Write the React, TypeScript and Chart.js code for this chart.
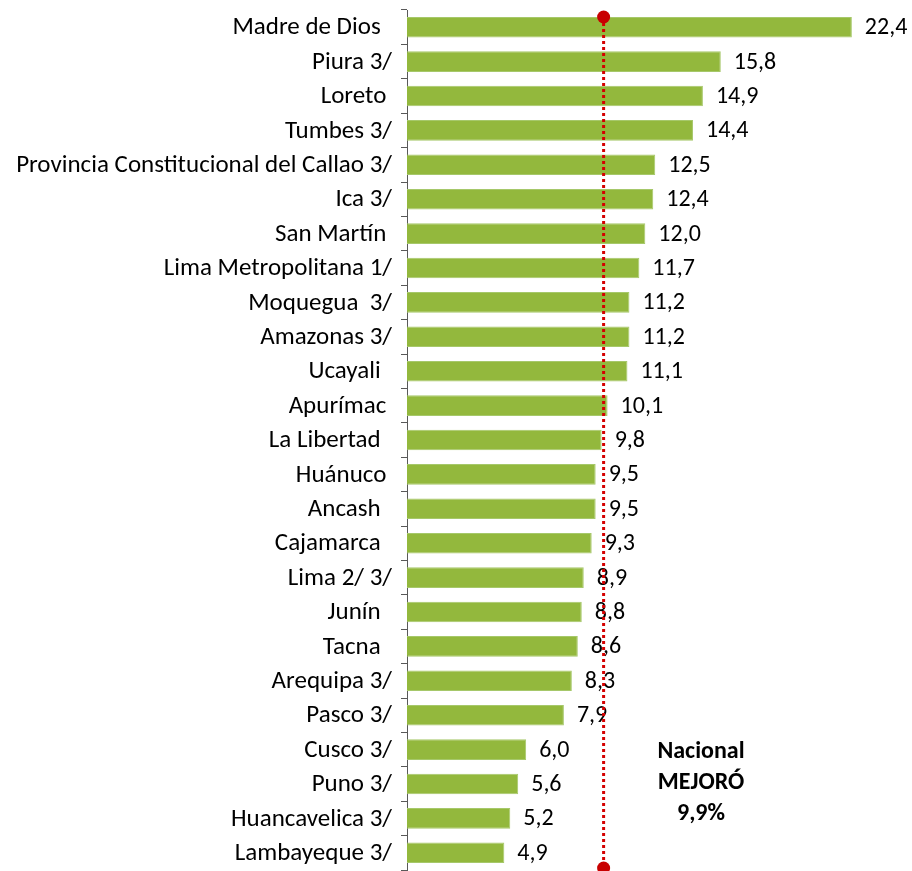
import React, { useEffect, useRef } from "react";
import { Chart, registerables } from "chart.js";

Chart.register(...registerables);

const categories = [
  "Madre de Dios  ",
  "Piura 3/",
  "Loreto ",
  "Tumbes 3/",
  "Provincia Constitucional del Callao 3/",
  "Ica 3/",
  "San Martín ",
  "Lima Metropolitana 1/",
  "Moquegua  3/",
  "Amazonas 3/",
  "Ucayali  ",
  "Apurímac ",
  "La Libertad  ",
  "Huánuco ",
  "Ancash  ",
  "Cajamarca  ",
  "Lima 2/ 3/",
  "Junín  ",
  "Tacna  ",
  "Arequipa 3/",
  "Pasco 3/",
  "Cusco 3/",
  "Puno 3/",
  "Huancavelica 3/",
  "Lambayeque 3/",
];

const values = [
  22.4, 15.8, 14.9, 14.4, 12.5, 12.4, 12.0, 11.7, 11.2, 11.2, 11.1, 10.1, 9.8,
  9.5, 9.5, 9.3, 8.9, 8.8, 8.6, 8.3, 7.9, 6.0, 5.6, 5.2, 4.9,
];

const nationalValue = 9.9;
const annotationLines = ["Nacional", "MEJORÓ", "9,9%"];

const FONT = "Carlito, Calibri, Lato, 'Open Sans', sans-serif";

export default function App() {
  const ref = useRef<HTMLCanvasElement | null>(null);

  useEffect(() => {
    document.body.style.margin = "0";
    const canvas = ref.current;
    if (!canvas) return;

    const overlay = {
      id: "overlay",
      afterDatasetsDraw(chart: any) {
        const ctx = chart.ctx;
        const xs = chart.scales.x;
        const ys = chart.scales.y;
        const meta = chart.getDatasetMeta(0);
        ctx.save();
        ctx.textBaseline = "middle";
        ctx.fillStyle = "#000";
        // category labels
        ctx.font = `25px ${FONT}`;
        ctx.textAlign = "right";
        categories.forEach((c, i) => {
          ctx.fillText(c, ys.left + ys.width - 15, ys.getPixelForValue(i) + 1);
        });
        // value labels
        ctx.font = `24px ${FONT}`;
        ctx.textAlign = "left";
        meta.data.forEach((bar: any, i: number) => {
          ctx.fillText(values[i].toFixed(1).replace(".", ","), bar.x + 13, bar.y + 1);
        });
        // national line
        const x = xs.getPixelForValue(nationalValue);
        const top = 17;
        const bottom = 868;
        ctx.strokeStyle = "#D40000";
        ctx.lineWidth = 3;
        ctx.setLineDash([3, 3]);
        ctx.beginPath();
        ctx.moveTo(x, top);
        ctx.lineTo(x, bottom);
        ctx.stroke();
        ctx.setLineDash([]);
        ctx.fillStyle = "#C80000";
        [top, bottom].forEach((y) => {
          ctx.beginPath();
          ctx.arc(x, y, 6.5, 0, Math.PI * 2);
          ctx.fill();
        });
        // annotation
        ctx.fillStyle = "#000";
        ctx.font = `bold 24px ${FONT}`;
        ctx.textAlign = "center";
        annotationLines.forEach((t, i) => {
          ctx.fillText(t, 701, 752 + i * 31);
        });
        ctx.restore();
      },
    };

    const chart = new Chart(canvas, {
      type: "bar",
      data: {
        labels: categories,
        datasets: [
          {
            data: values,
            backgroundColor: "#93B83D",
            borderColor: "#A6C86A",
            borderWidth: 1,
            barPercentage: 0.6,
            categoryPercentage: 1,
          },
        ],
      },
      options: {
        indexAxis: "y",
        animation: false,
        responsive: false,
        maintainAspectRatio: false,
        layout: { padding: { top: 10, bottom: 1, left: 0, right: 9.5 } },
        plugins: {
          legend: { display: false },
          tooltip: { enabled: false },
        },
        scales: {
          x: {
            display: false,
            min: 0,
            max: 24.95,
          },
          y: {
            offset: true,
            afterFit(scale: any) {
              scale.width = 407;
              scale.paddingTop = 0;
              scale.paddingBottom = 0;
            },
            grid: {
              offset: true,
              drawOnChartArea: false,
              drawTicks: true,
              tickLength: 6,
              color: "#595959",
              lineWidth: 1,
            },
            border: { display: true, color: "#595959", width: 1 },
            ticks: {
              display: false,
              autoSkip: false,
            },
          },
        },
      },
      plugins: [overlay],
    });

    return () => chart.destroy();
  }, []);

  return (
    <canvas
      ref={ref}
      width={912}
      height={871}
      style={{ display: "block", width: 912, height: 871 }}
    />
  );
}
